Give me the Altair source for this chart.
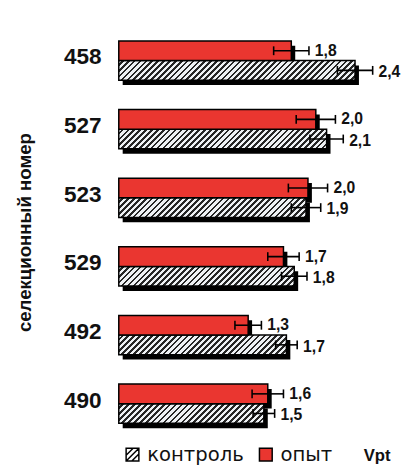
import altair as alt
import pandas as pd

# ---- data ----
groups = ["458", "527", "523", "529", "492", "490"]
series = ["опыт", "контроль"]
opyt_values = [1.76, 2.01, 1.93, 1.68, 1.32, 1.52]
opyt_errors = [0.18, 0.20, 0.20, 0.16, 0.135, 0.16]
opyt_labels = ["1,8", "2,0", "2,0", "1,7", "1,3", "1,6"]
kontrol_values = [2.41, 2.12, 1.91, 1.79, 1.71, 1.48]
kontrol_errors = [0.18, 0.17, 0.15, 0.13, 0.11, 0.11]
kontrol_labels = ["2,4", "2,1", "1,9", "1,8", "1,7", "1,5"]

rows = []
for i, g in enumerate(groups):
    rows.append(dict(group=g, series="опыт", v=opyt_values[i], e=opyt_errors[i], label=opyt_labels[i]))
    rows.append(dict(group=g, series="контроль", v=kontrol_values[i], e=kontrol_errors[i], label=kontrol_labels[i]))
df = pd.DataFrame(rows)

# ---- style constants ----
XMAX = 2.8
W = 280
H = 420
PXU = W / XMAX
BARH = 20
RED = "#ea3630"
FONT = "Liberation Sans"

# hatch gradient stops (stripes spaced evenly in pixels across the full plot width)
N = 47
stops = []
for i in range(N):
    a = i / N
    b = (i + 0.55) / N
    c = (i + 1) / N
    stops += [(a, "#eef1f4"), (b, "#eef1f4"), (b, "#262626"), (c, "#262626")]
stops_js = "[" + ",".join("{offset:%.5f,color:'%s'}" % (min(o, 1.0), col) for o, col in stops) + "]"
hatch_expr = (
    "{gradient:'linear',x1:0,y1:0,"
    f"x2:{XMAX}/datum.v,"
    f"y2:({XMAX}/datum.v)*({BARH}/({PXU}*datum.v)),"
    f"stops:{stops_js}}}"
)

ysc = alt.Scale(domain=groups, paddingInner=30 / 70, paddingOuter=15 / 70)
xsc = alt.Scale(domain=[0, XMAX], zero=True, nice=False)
yoff = alt.Scale(domain=series, range=[0, 40], paddingInner=0, paddingOuter=0)
yoff_sh = alt.Scale(domain=series, range=[5, 45], paddingInner=0, paddingOuter=0)

base = alt.Chart(df).transform_calculate(lo="datum.v - datum.e", hi="datum.v + datum.e")

xenc = alt.X(
    "v:Q", scale=xsc,
    axis=alt.Axis(labels=False, ticks=False, domain=False, grid=False, title="Vpt",
                  titleFont=FONT, titleFontSize=17, titleFontWeight="bold", titleColor="#111",
                  titleX=263, titleY=18, titleAlign="center", titleBaseline="middle"),
)
yenc = alt.Y(
    "group:N", scale=ysc,
    axis=alt.Axis(ticks=False, domain=False, grid=False, labelFont=FONT, labelFontSize=23,
                  labelFontWeight="bold", labelColor="#111", labelPadding=18, labelOffset=-3,
                  title="селекционный номер", titleFont=FONT, titleFontSize=19,
                  titleFontWeight="bold", titleColor="#111", titleX=-96, titleY=210,
                  titleAlign="center", titleBaseline="middle"),
)

shadow = base.mark_bar(color="black", xOffset=4, x2Offset=4).encode(
    x=xenc, y=yenc, yOffset=alt.YOffset("series:N", scale=yoff_sh)
)

gray = base.transform_filter("datum.series === 'контроль'").transform_calculate(
    g=hatch_expr
).mark_bar(stroke="black", strokeWidth=1.5).encode(
    x=xenc, y=yenc, yOffset=alt.YOffset("series:N", scale=yoff),
    fill=alt.Fill("g:N", scale=None, legend=None),
)

red = base.transform_filter("datum.series === 'опыт'").mark_bar(
    fill=RED, stroke="black", strokeWidth=1.5
).encode(x=xenc, y=yenc, yOffset=alt.YOffset("series:N", scale=yoff))

err_line = base.mark_rule(color="black", strokeWidth=1.6).encode(
    x="lo:Q", x2="hi:Q", y=yenc, yOffset=alt.YOffset("series:N", scale=yoff)
)
cap_lo = base.mark_tick(color="black", thickness=1.6, size=9, orient="vertical", opacity=1).encode(
    x="lo:Q", y=yenc, yOffset=alt.YOffset("series:N", scale=yoff)
)
cap_hi = base.mark_tick(color="black", thickness=1.6, size=9, orient="vertical", opacity=1).encode(
    x="hi:Q", y=yenc, yOffset=alt.YOffset("series:N", scale=yoff)
)
lab_red = base.transform_filter("datum.series === 'опыт'").mark_text(
    align="left", baseline="middle", dx=6, dy=-10, font=FONT, fontSize=16,
    fontWeight="bold", color="#111").encode(x="hi:Q", y=yenc, text="label:N")
lab_gray = base.transform_filter("datum.series === 'контроль'").mark_text(
    align="left", baseline="middle", dx=6, dy=12, font=FONT, fontSize=16,
    fontWeight="bold", color="#111").encode(x="hi:Q", y=yenc, text="label:N")

hatch_path = "M-1,-1H1V1H-1Z M-1,0.1L0.1,-1 M-1,1L1,-1 M-0.1,1L1,-0.1"
leg = alt.Legend(title=None, orient="none", legendX=4, legendY=427, direction="horizontal",
                 symbolSize=169, labelFont="DejaVu Sans", labelFontSize=20, labelColor="#111",
                 labelOffset=5, columnPadding=12, padding=0, symbolStrokeColor="black",
                 symbolStrokeWidth=1.5)
legend_layer = base.transform_filter("false").mark_point(filled=True, stroke="black", opacity=1).encode(
    x="v:Q", y=yenc,
    color=alt.Color("series:N", scale=alt.Scale(domain=["контроль", "опыт"], range=["#ffffff", RED]), legend=leg),
    shape=alt.Shape("series:N", scale=alt.Scale(domain=["контроль", "опыт"], range=[hatch_path, "square"]), legend=leg),
)

chart = alt.layer(shadow, gray, red, err_line, cap_lo, cap_hi, lab_red, lab_gray, legend_layer).resolve_scale(
    yOffset="independent"
).properties(
    width=W, height=H,
    autosize=alt.AutoSizeParams(type="none"),
    padding={"left": 113, "top": 14, "right": 13, "bottom": 25},
    background="white",
).configure_view(strokeWidth=0)

chart.save("out.html", embed_options={"renderer": "svg", "actions": False})
